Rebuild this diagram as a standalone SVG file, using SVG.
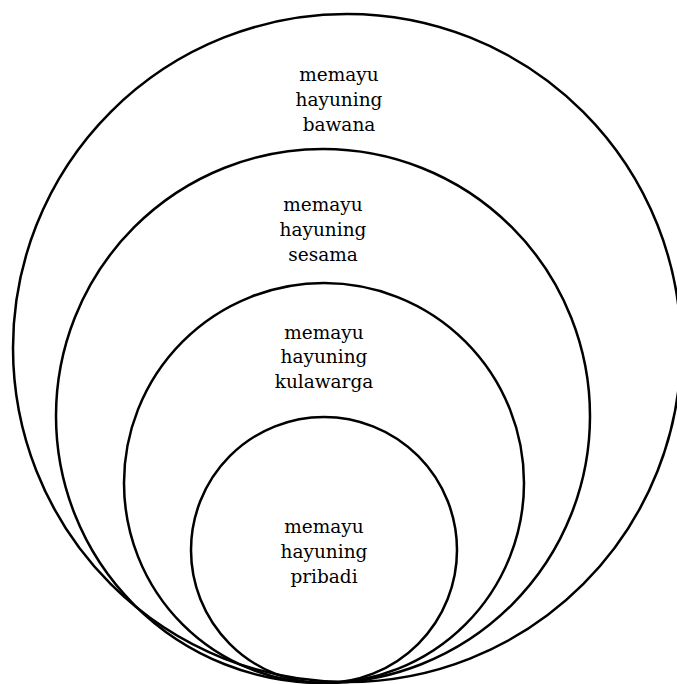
<svg xmlns="http://www.w3.org/2000/svg" width="677" height="684" viewBox="0 0 677 684">
<style>
.c{fill:none;stroke:#000;stroke-width:2.5}
.t{font-family:"DejaVu Serif","Liberation Serif",serif;font-size:18.5px;fill:#000;text-anchor:middle}
</style>
<rect width="677" height="684" fill="#fff"/>
<g id="bawana">
<circle class="c" cx="347" cy="348" r="334"/>
<text class="t"><tspan x="339" y="81">memayu</tspan><tspan x="339" y="106">hayuning</tspan><tspan x="339" y="131">bawana</tspan></text>
</g>
<g id="sesama">
<circle class="c" cx="323" cy="416" r="267"/>
<text class="t"><tspan x="323" y="211">memayu</tspan><tspan x="323" y="236">hayuning</tspan><tspan x="323" y="261">sesama</tspan></text>
</g>
<g id="kulawarga">
<circle class="c" cx="324" cy="483" r="200"/>
<text class="t"><tspan x="324" y="339">memayu</tspan><tspan x="324" y="363">hayuning</tspan><tspan x="324" y="388">kulawarga</tspan></text>
</g>
<g id="pribadi">
<circle class="c" cx="324" cy="550" r="133"/>
<text class="t"><tspan x="324" y="533">memayu</tspan><tspan x="324" y="558">hayuning</tspan><tspan x="324" y="583">pribadi</tspan></text>
</g>
<g id="connectors"/>
</svg>
